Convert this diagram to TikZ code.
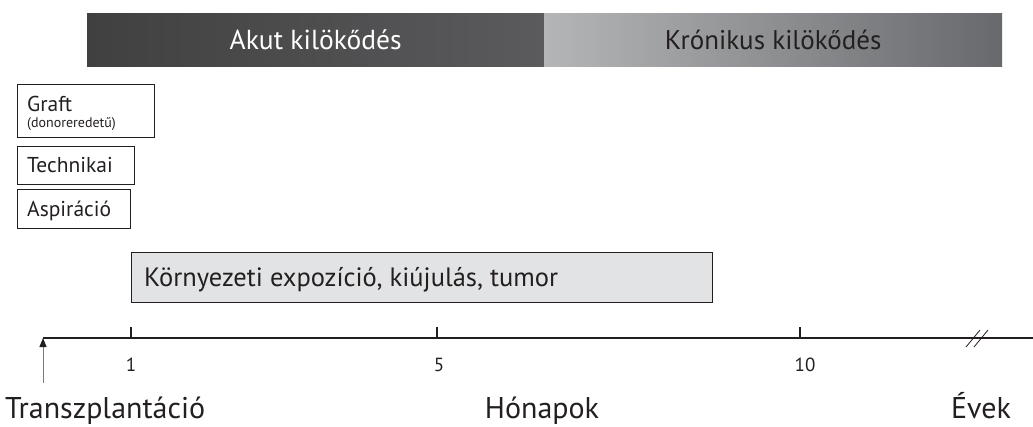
\documentclass[tikz,border=0pt]{standalone}
\usepackage{fontspec}
\setmainfont{PT Sans}
\usetikzlibrary{arrows.meta}
\definecolor{akutL}{HTML}{404041}
\definecolor{akutR}{HTML}{5B5B5D}
\definecolor{kronL}{HTML}{B3B5B7}
\definecolor{kronR}{HTML}{68696C}
\definecolor{boxfill}{HTML}{E2E3E4}
\definecolor{txt}{HTML}{231F20}
\tikzset{
  barbox/.style={draw=none, minimum height=53pt, inner sep=0pt, anchor=north west, font=\fontsize{27.5}{29}\selectfont},
  smallbox/.style={draw=txt, line width=1pt, anchor=north west, inner sep=0pt, text=txt},
  boxtext/.style={anchor=base west, inner sep=0pt, text=txt, font=\fontsize{21.5}{23}\selectfont},
  bigtext/.style={font=\fontsize{30}{32}\selectfont, text=txt, inner sep=0pt},
  ticklab/.style={font=\fontsize{19}{21}\selectfont, text=txt, inner sep=0pt},
  axisline/.style={line width=1.6pt, draw=txt},
}
\begin{document}
\begin{tikzpicture}[x=1pt,y=-1pt]
\useasboundingbox (0,0) rectangle (1033,426);
% top bars
\node[barbox, minimum width=457pt, left color=akutL, right color=akutR, text=white] (akut) at (87,13) {Akut kilökődés};
\node[barbox, minimum width=458pt, left color=kronL, right color=kronR, text=txt] (kron) at (544,13) {\fontsize{27}{29}\selectfont Krónikus kilökődés};
% left boxes
\node[smallbox, minimum width=137pt, minimum height=53pt] (graft) at (17,84) {};
\node[boxtext] (graftt) at (27,111) {Graft};
\node[anchor=base west, inner sep=0pt, text=txt, font=\fontsize{14}{15}\selectfont] (donor) at (27,127.5) {(donoreredetű)};
\node[smallbox, minimum width=117pt, minimum height=38pt] (tech) at (17,146) {};
\node[boxtext] (techt) at (27,172) {Technikai};
\node[smallbox, minimum width=113pt, minimum height=39pt] (asp) at (17,189) {};
\node[boxtext] (aspt) at (27,216) {Aspiráció};
% big box
\node[draw=txt, line width=0.9pt, fill=boxfill, minimum width=581pt, minimum height=50pt, anchor=north west, inner sep=0pt] (env) at (131,252) {};
\node[anchor=base west, inner sep=0pt, text=txt, font=\fontsize{26.5}{28}\selectfont] (envt) at (144,286) {Környezeti expozíció, kiújulás, tumor};
% axis
\coordinate (a0) at (43,338);
\coordinate (aend) at (1033,338);
\draw[axisline] (a0) -- (aend);
\coordinate (t1) at (131,338);
\coordinate (t5) at (437,338);
\coordinate (t10) at (800,338);
\foreach \t in {t1,t5,t10} \draw[line width=1.6pt, draw=txt] (\t) -- ++(0,-11);
\node[ticklab, anchor=base] (l1) at (131,371) {1};
\node[ticklab, anchor=base] (l5) at (439,371) {5};
\node[ticklab, anchor=base] (l10) at (805,371) {10};
% break marks
\draw[line width=0.8pt, draw=txt] (966,347) -- (980,330);
\draw[line width=0.8pt, draw=txt] (974,347) -- (988,330);
% transplant arrow
\coordinate (arrb) at (43,383);
\draw[line width=1pt, draw=txt!60, -{Triangle[length=9pt,width=7pt,color=txt]}] (arrb) -- (a0);
% bottom labels
\node[bigtext, anchor=base west] (transz) at (5,418) {Transzplantáció};
\node[bigtext, anchor=base] (hon) at (542,418) {Hónapok};
\node[bigtext, anchor=base] (evek) at (981,418) {Évek};
\end{tikzpicture}
\end{document}
